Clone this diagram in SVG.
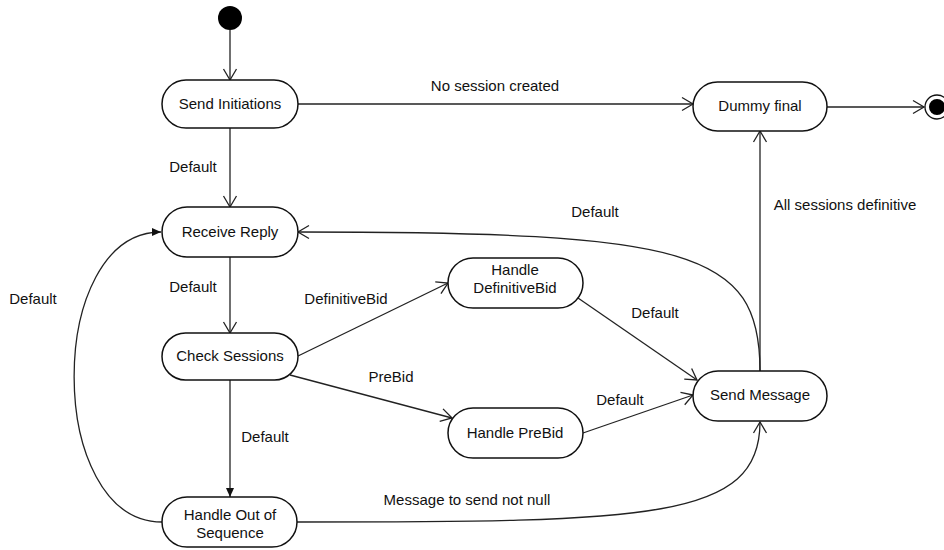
<svg xmlns="http://www.w3.org/2000/svg" width="944" height="550" viewBox="0 0 944 550">
<style>
.node rect{fill:#fff;stroke:#111;stroke-width:1.5}
text{font-family:"Liberation Sans",Arial,sans-serif;font-size:15px;fill:#111;text-anchor:middle}
.edge{fill:none;stroke:#222;stroke-width:1.3}
</style>
<defs>
<marker id="open" viewBox="-13 -8 15 16" refX="0" refY="0" markerWidth="15" markerHeight="16" markerUnits="userSpaceOnUse" orient="auto">
<path d="M-11,-6.5 L0,0 L-11,6.5" fill="none" stroke="#222" stroke-width="1.3"/>
</marker>
<marker id="filled" viewBox="-11 -6 12 12" refX="0" refY="0" markerWidth="12" markerHeight="12" markerUnits="userSpaceOnUse" orient="auto">
<path d="M-9,-4 L0,0 L-9,4 Z" fill="#111"/>
</marker>
</defs>
<rect width="944" height="550" fill="#fff"/>
<g id="connectors">
<path class="edge" d="M230,30 L230,80" marker-end="url(#open)"/>
<path class="edge" d="M230,128 L230,207" marker-end="url(#open)"/>
<path class="edge" d="M298,104 L693,104" marker-end="url(#open)"/>
<path class="edge" d="M827,107 L924,107" marker-end="url(#open)"/>
<path class="edge" d="M760,371 L760,131" marker-end="url(#open)"/>
<path class="edge" d="M760,371 C760,250 690,232 298,232" marker-end="url(#open)"/>
<path class="edge" d="M230,257 L230,333" marker-end="url(#open)"/>
<path class="edge" d="M298,356 L448,283" marker-end="url(#open)"/>
<path class="edge" d="M290,375 L452,418" marker-end="url(#open)"/>
<path class="edge" d="M578,298 L697,380" marker-end="url(#open)"/>
<path class="edge" d="M583,433 L693,395" marker-end="url(#open)"/>
<path class="edge" d="M230,380 L230,497" marker-end="url(#filled)"/>
<path class="edge" d="M162,522 C45,522 45,232 161,232" marker-end="url(#filled)"/>
<path class="edge" d="M297,522 C650,522 760,520 760,422" marker-end="url(#open)"/>
<text x="495" y="91">No session created</text>
<text x="193" y="172">Default</text>
<text x="845" y="210">All sessions definitive</text>
<text x="595" y="217">Default</text>
<text x="193" y="292">Default</text>
<text x="346" y="304">DefinitiveBid</text>
<text x="391" y="382">PreBid</text>
<text x="655" y="318">Default</text>
<text x="620" y="405">Default</text>
<text x="265" y="442">Default</text>
<text x="33" y="304">Default</text>
<text x="467" y="505">Message to send not null</text>
</g>
<g id="initial"><circle cx="230" cy="18" r="12" fill="#000"/></g>
<g id="final"><circle cx="937" cy="107" r="12" fill="#fff" stroke="#111" stroke-width="1.3"/><circle cx="937" cy="107" r="8" fill="#000"/></g>
<g id="send-initiations" class="node"><rect x="162" y="80" width="136" height="48" rx="24"/><text x="230" y="109">Send Initiations</text></g>
<g id="dummy-final" class="node"><rect x="693" y="82" width="134" height="49" rx="24.5"/><text x="760" y="111">Dummy final</text></g>
<g id="receive-reply" class="node"><rect x="162" y="207" width="136" height="50" rx="25"/><text x="230" y="237">Receive Reply</text></g>
<g id="check-sessions" class="node"><rect x="162" y="333" width="136" height="47" rx="23.5"/><text x="230" y="361">Check Sessions</text></g>
<g id="handle-definitivebid" class="node"><rect x="448" y="258" width="135" height="50" rx="25"/><text x="515" y="275">Handle</text><text x="515" y="293">DefinitiveBid</text></g>
<g id="handle-prebid" class="node"><rect x="448" y="408" width="135" height="50" rx="25"/><text x="515" y="438">Handle PreBid</text></g>
<g id="send-message" class="node"><rect x="693" y="371" width="134" height="50" rx="25"/><text x="760" y="400">Send Message</text></g>
<g id="handle-out-of-sequence" class="node"><rect x="162" y="497" width="135" height="50" rx="25"/><text x="230" y="520">Handle Out of</text><text x="230" y="538">Sequence</text></g>
</svg>
